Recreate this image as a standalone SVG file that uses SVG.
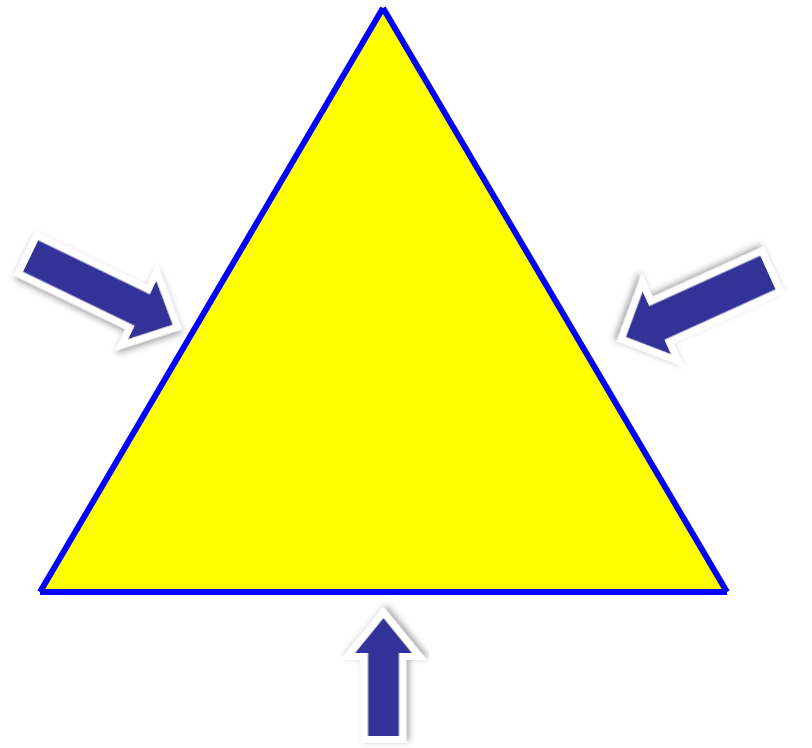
<svg xmlns="http://www.w3.org/2000/svg" width="812" height="748" viewBox="0 0 812 748">
<defs>
<filter id="shadow" x="-30%" y="-30%" width="160%" height="160%">
<feDropShadow dx="2" dy="3" stdDeviation="3" flood-color="#000" flood-opacity="0.35"/>
</filter>
</defs>
<style>
.arrow{fill:#333399;stroke:#ffffff;stroke-width:14;stroke-linejoin:miter;stroke-miterlimit:10;paint-order:stroke;filter:url(#shadow)}
.edge{stroke:#0000ff;stroke-width:6;stroke-linecap:butt}
</style>
<rect width="812" height="748" fill="#ffffff"/>
<g id="triangle">
<polygon points="383,8 40,592 727,592" fill="#ffff00"/>
<line class="edge" x1="383" y1="8" x2="40" y2="592"/>
<line class="edge" x1="383" y1="8" x2="727" y2="592"/>
<line class="edge" x1="40" y1="592" x2="727" y2="592"/>
</g>
<g id="connectors">
<g id="arrow-left">
<path class="arrow" transform="translate(30.5,256) rotate(25.8)" d="M0,-17.5 L124,-17.5 L124,-32.5 L158,0 L124,32.5 L124,17.5 L0,17.5 Z"/>
</g>
<g id="arrow-right">
<path class="arrow" transform="translate(768,272.5) rotate(155.6)" d="M0,-18.5 L122,-18.5 L122,-34.5 L156,0 L122,34.5 L122,18.5 L0,18.5 Z"/>
</g>
<g id="arrow-bottom">
<path class="arrow" transform="translate(383.5,736) rotate(-90)" d="M0,-15.5 L83,-15.5 L83,-28.5 L118,0 L83,28.5 L83,15.5 L0,15.5 Z"/>
</g>
</g>
</svg>
